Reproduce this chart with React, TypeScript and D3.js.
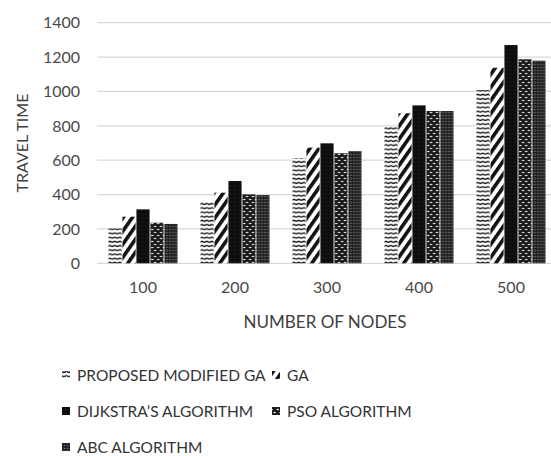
import React from 'react';
import * as d3 from 'd3';

const categories = ['100', '200', '300', '400', '500'];
const seriesNames = ['PROPOSED MODIFIED GA', 'GA', 'DIJKSTRA\u2019S ALGORITHM', 'PSO ALGORITHM', 'ABC ALGORITHM'];
const proposedGA = [204, 358, 611, 795, 1008];
const ga = [271, 411, 673, 873, 1138];
const dijkstra = [314, 479, 698, 919, 1270];
const pso = [236, 401, 640, 886, 1187];
const abc = [229, 397, 653, 886, 1179];
const yTicks = [0, 200, 400, 600, 800, 1000, 1200, 1400];

const seriesValues = [proposedGA, ga, dijkstra, pso, abc];
const patternIds = ['pZig', 'pDiag', 'pSolid', 'pSpot', 'pDot'];

const W = 551;
const H = 456;
const FONT = 'Lato, "Open Sans", sans-serif';

// legend layout (rows / columns)
const legendLayout = [
  { col: 0, row: 0 },
  { col: 1, row: 0 },
  { col: 0, row: 1 },
  { col: 1, row: 1 },
  { col: 0, row: 2 },
];

export default function App() {
  const x = d3.scaleBand<string>().domain(categories).range([97, 557]).paddingInner(0.25).paddingOuter(0.125);
  const xs = d3.scaleBand<string>().domain(seriesNames).range([0, x.bandwidth()]).paddingInner(0.06);
  const y = d3.scaleLinear().domain([0, 1400]).range([263.3, 22.7]);

  const legendX = [62, 272];
  const legendY = [375, 411, 447];

  return (
    <svg width={W} height={H} style={{ position: 'absolute', left: 0, top: 0, background: '#fff' }}>
      <defs>
        <pattern id="pZig" patternUnits="userSpaceOnUse" width="5" height="4.2">
          <rect width="5" height="4.2" fill="#fff" />
          <path d="M0,3 Q1.25,1 2.5,2.4 T5,2" fill="none" stroke="#111" strokeWidth="1.3" />
        </pattern>
        <pattern id="pDiag" patternUnits="userSpaceOnUse" width="7.5" height="10" patternTransform="rotate(35)">
          <rect width="7.5" height="10" fill="#fff" />
          <rect x="0" width="3.6" height="10" fill="#111" />
        </pattern>
        <pattern id="pSolid" patternUnits="userSpaceOnUse" width="4" height="4">
          <rect width="4" height="4" fill="#0c0c0c" />
          <circle cx="2" cy="2" r="0.5" fill="#444" />
        </pattern>
        <pattern id="pSpot" patternUnits="userSpaceOnUse" width="6" height="6">
          <rect width="6" height="6" fill="#1a1a1a" />
          <path d="M0.2,1.5 Q1.8,-0.2 3.1,1.6 Q1.8,3.1 0.2,1.5 Z" fill="#fff" />
          <path d="M3.1,4.6 Q4.6,2.9 6,4.5 Q4.6,6.1 3.1,4.6 Z" fill="#fff" />
        </pattern>
        <pattern id="pDot" patternUnits="userSpaceOnUse" width="3" height="3">
          <rect width="3" height="3" fill="#222" />
          <circle cx="1.5" cy="1.5" r="0.75" fill="#777" />
        </pattern>
      </defs>

      {/* gridlines */}
      {yTicks.map((t) => (
        <line key={'g' + t} x1={97} x2={W} y1={y(t)} y2={y(t)} stroke="#d9d9d9" strokeWidth={1.3} />
      ))}

      {/* y tick labels */}
      {yTicks.map((t) => (
        <text key={'yt' + t} x={80} y={y(t)} dy="0.36em" textAnchor="end" fontFamily={FONT} fontSize={16} fill="#4a4a4a">
          {t}
        </text>
      ))}

      {/* bars */}
      {categories.map((c, ci) => (
        <g key={c} transform={`translate(${x(c)},0)`}>
          {seriesNames.map((s, si) => {
            const v = seriesValues[si][ci];
            return (
              <rect
                key={s}
                x={xs(s)}
                y={y(v)}
                width={xs.bandwidth()}
                height={y(0) - y(v)}
                fill={`url(#${patternIds[si]})`}
              />
            );
          })}
        </g>
      ))}

      {/* x tick labels */}
      {categories.map((c) => (
        <text key={'xt' + c} x={(x(c) as number) + x.bandwidth() / 2} y={287} dy="0.36em" textAnchor="middle" fontFamily={FONT} fontSize={16} fill="#4a4a4a">
          {c}
        </text>
      ))}

      {/* axis titles */}
      <text x={325} y={322} dy="0.36em" textAnchor="middle" fontFamily={FONT} fontSize={17} fill="#404040">
        NUMBER OF NODES
      </text>
      <text transform="translate(22,143) rotate(-90)" dy="0.36em" textAnchor="middle" fontFamily={FONT} fontSize={16} fill="#404040">
        TRAVEL TIME
      </text>

      {/* legend */}
      {seriesNames.map((s, si) => {
        const lx = legendX[legendLayout[si].col];
        const ly = legendY[legendLayout[si].row];
        return (
          <g key={'lg' + s}>
            <rect x={lx} y={ly - 4} width={8} height={8} fill={`url(#${patternIds[si]})`} />
            <text x={lx + 15} y={ly} dy="0.36em" fontFamily={FONT} fontSize={15.5} fill="#333">
              {s}
            </text>
          </g>
        );
      })}
    </svg>
  );
}
